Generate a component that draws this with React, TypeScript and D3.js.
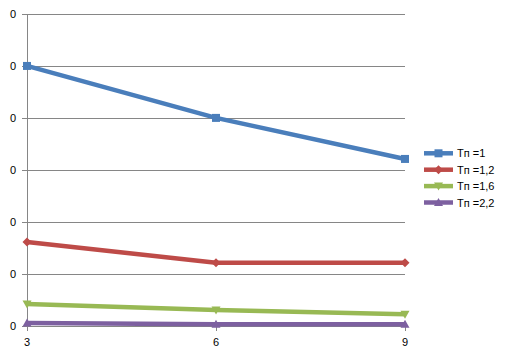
import React from "react";
import * as d3 from "d3";

const xValues = [3, 6, 9];
const seriesNames = ["Tп =1", "Tп =1,2", "Tп =1,6", "Tп =2,2"];
const seriesBlue = [5.0, 4.0, 3.21];
const seriesRed = [1.61, 1.21, 1.21];
const seriesGreen = [0.42, 0.3, 0.22];
const seriesPurple = [0.05, 0.03, 0.03];
const yTicks = [0, 1, 2, 3, 4, 5, 6];
const yTickLabels = ["0", "0", "0", "0", "0", "0", "0"];

const colors = ["#4a7ebb", "#be4b48", "#98b954", "#7d60a0"];
const markers = ["square", "diamond", "triDown", "triUp"];

function Marker({ type, x, y, color }: { type: string; x: number; y: number; color: string }) {
  if (type === "square") return <rect x={x - 4} y={y - 4} width={8} height={8} fill={color} />;
  if (type === "diamond")
    return <path d={`M${x},${y - 4.5}L${x + 4.5},${y}L${x},${y + 4.5}L${x - 4.5},${y}Z`} fill={color} />;
  if (type === "triDown")
    return <path d={`M${x - 4.5},${y - 3.5}L${x + 4.5},${y - 3.5}L${x},${y + 4.5}Z`} fill={color} />;
  return <path d={`M${x - 4.5},${y + 3.5}L${x + 4.5},${y + 3.5}L${x},${y - 4.5}Z`} fill={color} />;
}

export default function App() {
  const W = 509, H = 356;
  const x = d3.scaleLinear().domain([3, 9]).range([27, 405]);
  const y = d3.scaleLinear().domain([0, 6]).range([325.7, 14]);
  const data = [seriesBlue, seriesRed, seriesGreen, seriesPurple];
  const line = d3.line<number>().x((_, i) => x(xValues[i])).y((d) => y(d));
  const font = "'Liberation Sans', Arial, sans-serif";
  return (
    <svg width={W} height={H} style={{ position: "absolute", left: 0, top: 0 }} fontFamily={font}>
      <rect width={W} height={H} fill="#fff" />
      {yTicks.map((t, i) => (
        <g key={"g" + i}>
          <line x1={22} x2={405} y1={Math.round(y(t)) + 0.5} y2={Math.round(y(t)) + 0.5} stroke="#868686" />
          <text x={16} y={y(t) + 4} fontSize={11} textAnchor="end" fill="#000">
            {yTickLabels[i]}
          </text>
        </g>
      ))}
      <line x1={27.5} x2={27.5} y1={14} y2={331} stroke="#868686" />
      {xValues.map((v) => (
        <g key={"x" + v}>
          <line x1={Math.round(x(v)) + 0.5} x2={Math.round(x(v)) + 0.5} y1={325} y2={331} stroke="#868686" />
          <text x={x(v)} y={346} fontSize={11} textAnchor="middle" fill="#000">
            {v}
          </text>
        </g>
      ))}
      {data.map((s, k) => (
        <g key={"s" + k}>
          <path d={line(s) || ""} fill="none" stroke={colors[k]} strokeWidth={4.5} strokeLinejoin="round" />
          {s.map((d, i) => (
            <Marker key={i} type={markers[k]} x={x(xValues[i])} y={y(d)} color={colors[k]} />
          ))}
        </g>
      ))}
      {seriesNames.map((n, k) => {
        const ly = 153.3 + k * 16.4;
        return (
          <g key={"l" + k}>
            <line x1={424} x2={453} y1={ly} y2={ly} stroke={colors[k]} strokeWidth={4.5} />
            <Marker type={markers[k]} x={438.5} y={ly} color={colors[k]} />
            <text x={457} y={ly + 4} fontSize={11} fill="#000">
              {n}
            </text>
          </g>
        );
      })}
    </svg>
  );
}
